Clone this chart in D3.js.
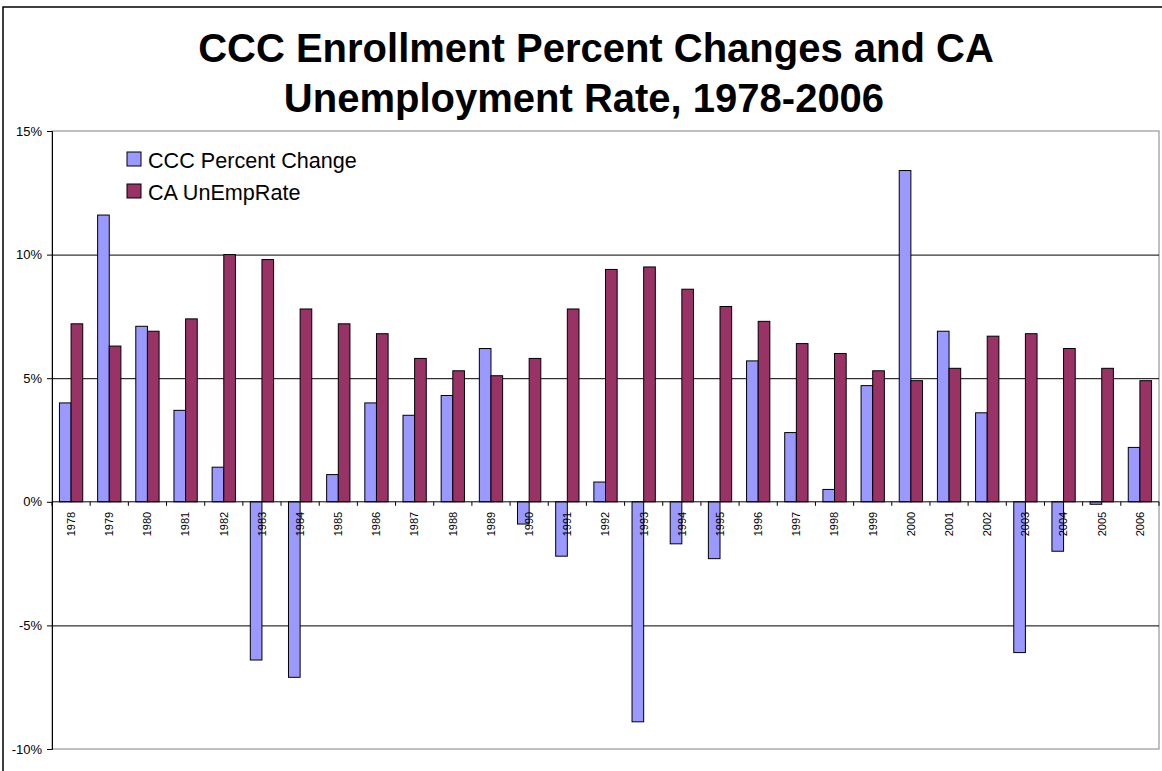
<!DOCTYPE html>
<html>
<head>
<meta charset="utf-8">
<script src="https://cdn.jsdelivr.net/npm/d3@7"></script>
<style>
  body { margin: 0; background: #fff; }
  text { font-family: "Liberation Sans", Arial, sans-serif; }
</style>
</head>
<body>
<div id="chart"></div>
<script>
const years = ["1978","1979","1980","1981","1982","1983","1984","1985","1986","1987",
               "1988","1989","1990","1991","1992","1993","1994","1995","1996","1997",
               "1998","1999","2000","2001","2002","2003","2004","2005","2006"];
const cccChange = [4.0, 11.6, 7.1, 3.7, 1.4, -6.4, -7.1, 1.1, 4.0, 3.5,
                   4.3, 6.2, -0.9, -2.2, 0.8, -8.9, -1.7, -2.3, 5.7, 2.8,
                   0.5, 4.7, 13.4, 6.9, 3.6, -6.1, -2.0, -0.1, 2.2];
const unempRate = [7.2, 6.3, 6.9, 7.4, 10.0, 9.8, 7.8, 7.2, 6.8, 5.8,
                   5.3, 5.1, 5.8, 7.8, 9.4, 9.5, 8.6, 7.9, 7.3, 6.4,
                   6.0, 5.3, 4.9, 5.4, 6.7, 6.8, 6.2, 5.4, 4.9];
const seriesNames = ["CCC Percent Change", "CA UnEmpRate"];
const seriesColors = ["#9999FF", "#993366"];
const yTicks = [-10, -5, 0, 5, 10, 15];

const W = 1162, H = 771;
const plot = {left: 52, right: 1159, top: 131, bottom: 749};

const svg = d3.select("#chart").append("svg")
    .attr("width", W).attr("height", H);

// outer chart border
svg.append("rect")
    .attr("x", 3).attr("y", 7)
    .attr("width", W + 10).attr("height", H + 10)
    .attr("fill", "#fff").attr("stroke", "#000").attr("stroke-width", 1.5);

// title
const title = svg.append("text")
    .attr("text-anchor", "middle")
    .style("font-size", "40px").style("font-weight", "bold");
title.append("tspan").attr("x", 596).attr("y", 62).text("CCC Enrollment Percent Changes and CA");
title.append("tspan").attr("x", 584).attr("y", 112).text("Unemployment Rate, 1978-2006");

// scales
const x = d3.scaleBand().domain(years).range([plot.left, plot.right]).padding(0);
const step = x.bandwidth();
const xs = d3.scaleBand().domain([0, 1]).range([step * 0.195, step * 0.805]).padding(0);
const y = d3.scaleLinear().domain([-10, 15]).range([plot.bottom, plot.top]);

// plot area border
svg.append("rect")
    .attr("x", plot.left).attr("y", plot.top)
    .attr("width", plot.right - plot.left).attr("height", plot.bottom - plot.top)
    .attr("fill", "#fff").attr("stroke", "#808080").attr("stroke-width", 1);

// gridlines
svg.append("g")
    .attr("transform", `translate(${plot.left},0)`)
    .call(d3.axisLeft(y).tickValues([-5, 5, 10]).tickSize(-(plot.right - plot.left)).tickFormat(""))
    .call(g => g.select(".domain").remove())
    .call(g => g.selectAll("line").attr("stroke", "#000").attr("stroke-width", 1));

// bars
const data = years.map((yr, i) => ({year: yr, vals: [cccChange[i], unempRate[i]]}));
const groups = svg.append("g").selectAll("g")
    .data(data)
    .join("g")
    .attr("transform", d => `translate(${x(d.year)},0)`);

groups.selectAll("rect")
    .data(d => d.vals.map((v, k) => ({v, k})))
    .join("rect")
    .attr("x", d => xs(d.k))
    .attr("width", xs.bandwidth())
    .attr("y", d => y(Math.max(0, d.v)))
    .attr("height", d => Math.abs(y(d.v) - y(0)))
    .attr("fill", d => seriesColors[d.k])
    .attr("stroke", "#000")
    .attr("stroke-width", 1);

// y axis
svg.append("g")
    .attr("transform", `translate(${plot.left},0)`)
    .call(d3.axisLeft(y).tickValues(yTicks).tickSize(5).tickPadding(5).tickFormat(d => d + "%"))
    .call(g => g.select(".domain").attr("stroke", "#000"))
    .call(g => g.selectAll("text").style("font-size", "13px").attr("fill", "#000")
        .style("font-family", "'Liberation Sans', Arial, sans-serif"));

// x axis at zero, ticks at category boundaries
const xAxis = svg.append("g").attr("transform", `translate(0,${y(0)})`);
xAxis.append("line")
    .attr("x1", plot.left).attr("x2", plot.right)
    .attr("stroke", "#000");
xAxis.selectAll(".tick")
    .data(years.concat(["end"]))
    .join("line")
    .attr("x1", (d, i) => plot.left + i * step)
    .attr("x2", (d, i) => plot.left + i * step)
    .attr("y1", 0).attr("y2", 4)
    .attr("stroke", "#000");
xAxis.selectAll(".lbl")
    .data(years)
    .join("text")
    .attr("class", "lbl")
    .attr("transform", d => `translate(${x(d) + step / 2},10) rotate(-90)`)
    .attr("text-anchor", "end")
    .attr("dy", "0.35em")
    .style("font-size", "11px")
    .text(d => d);

// legend
const legend = svg.append("g");
seriesNames.forEach((name, k) => {
    legend.append("rect")
        .attr("x", 127).attr("y", 152 + k * 32)
        .attr("width", 14).attr("height", 14)
        .attr("fill", seriesColors[k]).attr("stroke", "#000");
    legend.append("text")
        .attr("x", 148).attr("y", 168 + k * 32)
        .style("font-size", "21.6px")
        .text(name);
});
</script>
</body>
</html>
